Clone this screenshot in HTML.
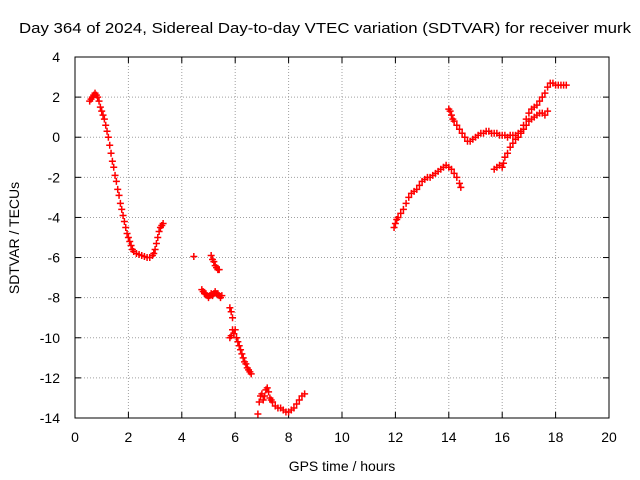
<!DOCTYPE html>
<html><head><meta charset="utf-8"><style>
html,body{margin:0;padding:0;background:#fff;}
svg{display:block;font-family:"Liberation Sans",sans-serif;}
</style></head><body>
<svg id="chart" width="640" height="480">
<text x="325" y="33" font-size="15" text-anchor="middle" textLength="612" lengthAdjust="spacingAndGlyphs">Day 364 of 2024, Sidereal Day-to-day VTEC variation (SDTVAR) for receiver murk</text>
<text x="342" y="471" font-size="14" text-anchor="middle">GPS time / hours</text>
<text transform="translate(19,238) rotate(-90)" font-size="14" text-anchor="middle">SDTVAR / TECUs</text>
<g id="grid"></g>
<g id="ticks"></g>
<g id="marks"></g>
<rect x="75" y="57" width="534" height="361" fill="none" stroke="#000" stroke-width="1"/>
</svg>
<script>
const xTicks=[0,2,4,6,8,10,12,14,16,18,20];
const yTicks=[4,2,0,-2,-4,-6,-8,-10,-12,-14];
const times=[0.55,0.6,0.65,0.7,0.75,0.8,0.85,0.9,0.95,1.0,1.05,1.1,1.15,1.2,1.25,1.3,1.35,1.4,1.45,1.5,1.55,1.6,1.65,1.7,1.75,1.8,1.85,1.9,1.95,2.0,2.05,2.1,2.15,2.2,2.3,2.4,2.5,2.6,2.7,2.8,2.9,2.95,3.0,3.05,3.1,3.15,3.2,3.25,3.3,
4.45,
5.1,5.15,5.2,5.25,5.3,5.35,5.4,
4.75,4.8,4.85,4.9,4.95,5.0,5.05,5.1,5.15,5.2,5.25,5.3,5.35,5.4,5.45,5.5,
5.8,5.85,5.9,5.9,5.95,6.0,6.05,6.1,6.15,6.2,6.25,6.3,6.35,6.4,6.45,6.5,6.55,6.6,5.85,5.8,
6.85,6.9,6.95,7.0,7.05,7.1,7.15,7.2,7.25,7.3,7.35,7.4,7.5,7.6,7.7,7.8,7.9,8.0,8.1,8.2,8.3,8.4,8.5,8.6,
11.95,12.0,12.05,12.1,12.2,12.3,12.4,12.5,12.6,12.7,12.8,12.9,13.0,13.1,13.2,13.3,13.4,13.5,13.6,13.7,13.8,13.9,14.0,14.1,14.2,14.3,14.4,14.45,
14.0,14.05,14.1,14.15,14.2,14.3,14.4,14.5,14.6,14.7,14.8,14.9,15.0,15.1,15.2,15.3,15.4,15.5,15.6,15.7,15.8,15.9,16.0,16.1,16.2,16.3,16.4,16.5,16.6,16.7,16.8,16.9,17.0,17.1,17.2,17.3,17.4,17.5,17.6,17.7,17.8,17.9,18.0,18.1,18.2,18.3,18.4,
15.7,15.8,15.9,16.0,16.05,16.1,16.2,16.3,16.4,16.5,16.6,16.7,16.8,16.9,17.0,17.1,17.2,17.3,17.4,17.5,17.6,17.7];
const values=[1.8,1.9,2.0,2.1,2.2,2.1,2.0,1.8,1.5,1.3,1.1,0.9,0.6,0.3,0.0,-0.4,-0.8,-1.2,-1.5,-1.9,-2.2,-2.6,-2.9,-3.3,-3.6,-3.9,-4.2,-4.5,-4.8,-5.0,-5.2,-5.4,-5.6,-5.7,-5.8,-5.85,-5.9,-5.95,-6.0,-6.0,-5.9,-5.8,-5.6,-5.3,-5.0,-4.7,-4.5,-4.4,-4.3,
-5.95,
-5.9,-6.1,-6.2,-6.4,-6.5,-6.6,-6.6,
-7.6,-7.7,-7.8,-7.8,-7.9,-8.0,-7.9,-7.8,-7.9,-7.8,-7.7,-7.8,-7.8,-7.9,-8.0,-7.9,
-8.5,-8.7,-9.0,-9.6,-9.8,-9.6,-10.0,-10.2,-10.4,-10.6,-10.8,-11.0,-11.2,-11.3,-11.5,-11.6,-11.7,-11.8,-9.9,-10.0,
-13.8,-13.2,-12.9,-12.8,-13.1,-12.9,-12.6,-12.5,-12.7,-13.0,-13.1,-13.2,-13.4,-13.5,-13.5,-13.6,-13.7,-13.7,-13.6,-13.5,-13.3,-13.1,-12.9,-12.8,
-4.5,-4.3,-4.1,-4.0,-3.8,-3.6,-3.3,-3.0,-2.8,-2.7,-2.6,-2.4,-2.2,-2.1,-2.0,-2.0,-1.9,-1.8,-1.7,-1.6,-1.5,-1.4,-1.5,-1.6,-1.8,-2.0,-2.3,-2.5,
1.4,1.3,1.1,0.9,0.8,0.6,0.4,0.2,0.0,-0.2,-0.2,-0.1,0.0,0.1,0.2,0.2,0.3,0.3,0.2,0.2,0.2,0.1,0.1,0.1,0.0,0.1,0.1,0.1,0.2,0.3,0.6,0.9,1.2,1.4,1.5,1.6,1.8,2.0,2.2,2.5,2.7,2.7,2.6,2.6,2.6,2.6,2.6,
-1.6,-1.5,-1.4,-1.5,-1.3,-1.0,-0.8,-0.5,-0.3,-0.1,0.0,0.2,0.4,0.6,0.8,0.9,1.0,1.1,1.2,1.2,1.1,1.3];
const X0=75,X1=609,Y0=418,Y1=57,XMIN=0,XMAX=20,YMIN=-14,YMAX=4;
const sx=v=>X0+(v-XMIN)/(XMAX-XMIN)*(X1-X0);
const sy=v=>Y0-(v-YMIN)/(YMAX-YMIN)*(Y0-Y1);
const NS="http://www.w3.org/2000/svg";
const grid=document.getElementById('grid'),ticks=document.getElementById('ticks'),marks=document.getElementById('marks');
function mk(tag,attrs,parent){const e=document.createElementNS(NS,tag);for(const k in attrs)e.setAttribute(k,attrs[k]);parent.appendChild(e);return e;}
xTicks.forEach(t=>{const x=sx(t);
 if(t>XMIN&&t<XMAX){const g=mk('line',{x1:x,x2:x,y1:Y1,y2:Y0,stroke:'#a0a0a0','stroke-dasharray':'1,2'},grid);}
 const a=mk('line',{x1:x,x2:x,y1:Y0,y2:Y0-6,stroke:'#000'},ticks);
 const b=mk('line',{x1:x,x2:x,y1:Y1,y2:Y1+6,stroke:'#000'},ticks);
 const l=mk('text',{x:x,y:Y0+24,'font-size':14,'text-anchor':'middle'},ticks);l.textContent=t;});
yTicks.forEach(t=>{const y=sy(t);
 if(t>YMIN&&t<YMAX){const g=mk('line',{x1:X0,x2:X1,y1:y,y2:y,stroke:'#a0a0a0','stroke-dasharray':'1,2'},grid);}
 const a=mk('line',{x1:X0,x2:X0+6,y1:y,y2:y,stroke:'#000'},ticks);
 const b=mk('line',{x1:X1,x2:X1-6,y1:y,y2:y,stroke:'#000'},ticks);
 const l=mk('text',{x:X0-15,y:y+5,'font-size':14,'text-anchor':'end'},ticks);l.textContent=t;});
times.forEach((t,i)=>{const x=sx(t),y=sy(values[i]);
 const p=mk('path',{d:`M${x-3.5},${y}H${x+3.5}M${x},${y-3.5}V${y+3.5}`,stroke:'#ff0000','stroke-width':1.5},marks);
 
 });
</script>
</body></html>
